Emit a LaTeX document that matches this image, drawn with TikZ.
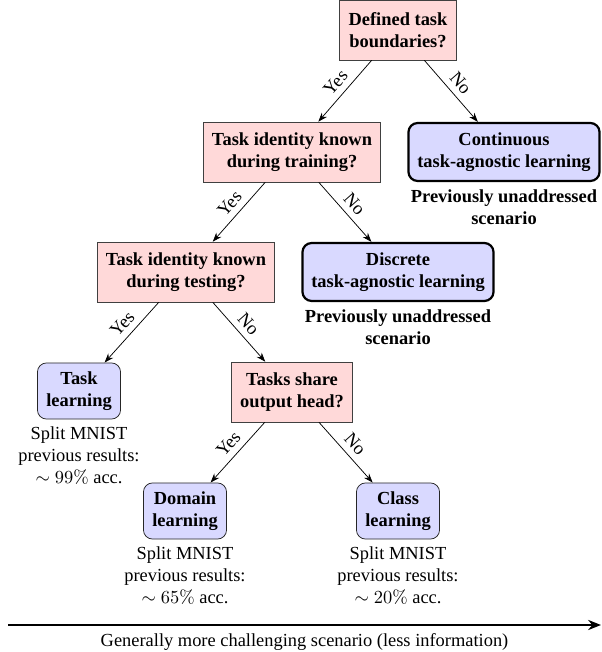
\documentclass[tikz,border=0pt]{standalone}
\usepackage[no-math]{fontspec}
\setmainfont{Liberation Serif}
\usetikzlibrary{arrows.meta, positioning}

\begin{document}
\begin{tikzpicture}[x=0.543pt, y=-0.543pt, every node/.style={font=\normalsize},
    question/.style={draw=black!75, rectangle, fill=red!15, align=center, font=\bfseries, inner xsep=4.8pt, minimum height=32.5pt},
    scenario/.style={draw=black!85, rectangle, rounded corners=5pt, fill=blue!15, align=center, font=\bfseries, inner xsep=4.8pt, minimum height=30.5pt},
    agnostic/.style={scenario, very thick, draw=black, minimum height=31.5pt},
    result/.style={align=center},
    branch/.style={-{Stealth[length=5pt, width=3.6pt]}},
    answer/.style={midway, sloped, above}]
    \useasboundingbox (0,0) rectangle (602,652);
    % decisions
    \node[question] (bound) at (398,30) {Defined task\\boundaries?};
    \node[question] (train) at (292,152) {Task identity known\\during training?};
    \node[question] (test) at (186,272) {Task identity known\\during testing?};
    \node[question] (head) at (292,392) {Tasks share\\output head?};
    % scenarios
    \node[agnostic] (cont) at (504,152) {Continuous\\task-agnostic learning};
    \node[agnostic] (disc) at (398,272) {Discrete\\task-agnostic learning};
    \node[scenario] (task) at (79,391) {Task\\learning};
    \node[scenario] (domain) at (185,511) {Domain\\learning};
    \node[scenario] (class) at (398,511) {Class\\learning};
    % notes under the scenarios
    \node[result, font=\bfseries, below=0.5pt of cont] (contnote) {Previously unaddressed\\scenario};
    \node[result, font=\bfseries, below=0.5pt of disc] (discnote) {Previously unaddressed\\scenario};
    \node[result, below=0.5pt of task] (taskres) {Split MNIST\\previous results:\\$\sim 99\%$ acc.};
    \node[result, below=0.5pt of domain] (domainres) {Split MNIST\\previous results:\\$\sim 65\%$ acc.};
    \node[result, below=0.5pt of class] (classres) {Split MNIST\\previous results:\\$\sim 20\%$ acc.};
    % branches
    \draw[branch] (bound) -- (train) node[answer] {Yes};
    \draw[branch] (bound) -- (cont) node[answer] {No};
    \draw[branch] (train) -- (test) node[answer] {Yes};
    \draw[branch] (train) -- (disc) node[answer] {No};
    \draw[branch] (test) -- (task) node[answer] {Yes};
    \draw[branch] (test) -- (head) node[answer] {No};
    \draw[branch] (head) -- (domain) node[answer] {Yes};
    \draw[branch] (head) -- (class) node[answer] {No};
    % difficulty axis
    \coordinate (axisstart) at (8,625);
    \coordinate (axisend) at (601,625);
    \draw[line width=1.1pt, -{Stealth[length=7pt, width=5.5pt]}] (axisstart) -- (axisend)
        node[midway, below=1pt] (axislabel) {Generally more challenging scenario (less information)};
\end{tikzpicture}
\end{document}
